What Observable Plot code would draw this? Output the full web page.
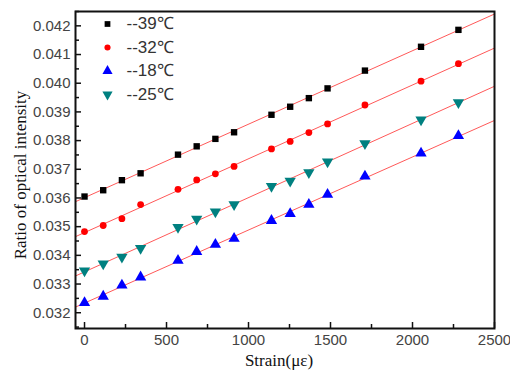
<!DOCTYPE html>
<html>
<head>
<meta charset="utf-8">
<script src="https://cdn.jsdelivr.net/npm/d3@7"></script>
<script src="https://cdn.jsdelivr.net/npm/@observablehq/plot@0.6"></script>
<style>
  html, body { margin: 0; padding: 0; background: white; }
</style>
</head>
<body>
<div id="chart"></div>
<script>
const strain = [0, 114, 228, 342, 570, 684, 798, 912, 1140, 1254, 1368, 1482, 1710, 2052, 2280];
const t39 = [0.03605, 0.03627, 0.03662, 0.03686, 0.03751, 0.03780, 0.03806, 0.03829, 0.03890, 0.03918, 0.03948, 0.03982, 0.04044, 0.04127, 0.04186];
const t32 = [0.03483, 0.03504, 0.03528, 0.03577, 0.03630, 0.03663, 0.03684, 0.03710, 0.03771, 0.03797, 0.03828, 0.03858, 0.03924, 0.04007, 0.04068];
const t18 = [0.03235, 0.03257, 0.03296, 0.03324, 0.03382, 0.03413, 0.03438, 0.03459, 0.03521, 0.03545, 0.03577, 0.03612, 0.03676, 0.03756, 0.03817];
const t25 = [0.03346, 0.03371, 0.03394, 0.03425, 0.03498, 0.03527, 0.03552, 0.03577, 0.03641, 0.03659, 0.03689, 0.03726, 0.03790, 0.03873, 0.03933];

const seriesNames = ["--39\u2103", "--32\u2103", "--18\u2103", "--25\u2103"];
const seriesValues = [t39, t32, t18, t25];
const seriesColors = ["#000000", "#ff0000", "#0000ff", "#008080"];
const seriesSymbols = ["square", "circle", "triangle", "triangle"];
const seriesRotate = [0, 0, 0, 180];
const seriesR = [3.6, 3.4, 4.2, 4.2];

const xTicks = [0, 500, 1000, 1500, 2000, 2500];
const xMinor = [250, 750, 1250, 1750, 2250];
const yTicks = [0.032, 0.033, 0.034, 0.035, 0.036, 0.037, 0.038, 0.039, 0.040, 0.041, 0.042];
const yMinor = [0.0315, 0.0325, 0.0335, 0.0345, 0.0355, 0.0365, 0.0375, 0.0385, 0.0395, 0.0405, 0.0415, 0.0425];

const xDomain = [-55, 2500];
const yDomain = [0.03145, 0.0425];

function fit(ys) {
  const mx = d3.mean(strain), my = d3.mean(ys);
  let sxy = 0, sxx = 0;
  strain.forEach((x, i) => { sxy += (x - mx) * (ys[i] - my); sxx += (x - mx) * (x - mx); });
  const b = sxy / sxx, a = my - b * mx;
  return xDomain.map(x => ({x, y: a + b * x}));
}

const marks = [];
// fit lines
seriesValues.forEach((ys) => {
  marks.push(Plot.line(fit(ys), {x: "x", y: "y", stroke: "#ff3b3b", strokeWidth: 1, strokeOpacity: 0.85}));
});
// points
seriesValues.forEach((ys, k) => {
  const data = strain.map((x, i) => ({x, y: ys[i]}));
  marks.push(Plot.dot(data, {x: "x", y: "y", symbol: seriesSymbols[k], r: seriesR[k], fill: seriesColors[k], stroke: "none", rotate: seriesRotate[k]}));
});
// legend
seriesNames.forEach((name, k) => {
  marks.push(Plot.dot([name], {frameAnchor: "top-left", dx: 32, dy: 12.5 + 23.5 * k, symbol: seriesSymbols[k], r: seriesR[k] * 0.9, fill: seriesColors[k], stroke: "none", rotate: seriesRotate[k]}));
  marks.push(Plot.text([name], {frameAnchor: "top-left", dx: 51, dy: 12.5 + 23.5 * k, text: d => d, textAnchor: "start", lineAnchor: "middle", fontSize: 17, fill: "#333", fontFamily: "Liberation Sans, Arial, sans-serif"}));
});
// axes: labels
marks.push(Plot.axisX({ticks: xTicks, tickSize: 0, tickPadding: 6, tickFormat: d => String(d), label: null, fill: "#444"}));
marks.push(Plot.axisY({ticks: yTicks, tickSize: 0, tickPadding: 5, tickFormat: d3.format(".3f"), label: null, fill: "#444"}));
// inward ticks
marks.push(Plot.axisX({ticks: xTicks, tickSize: 6, dy: -6, tickFormat: () => "", label: null, stroke: "#111", strokeWidth: 1.5}));
marks.push(Plot.axisX({ticks: xMinor, tickSize: 4, dy: -4, tickFormat: () => "", label: null, stroke: "#111", strokeWidth: 1.5}));
marks.push(Plot.axisY({ticks: yTicks, tickSize: 6, dx: 6, tickFormat: () => "", label: null, stroke: "#111", strokeWidth: 1.5}));
marks.push(Plot.axisY({ticks: yMinor, tickSize: 4, dx: 4, tickFormat: () => "", label: null, stroke: "#111", strokeWidth: 1.5}));
marks.push(Plot.frame({stroke: "#111", strokeWidth: 2}));
// axis titles
marks.push(Plot.text(["Strain(\u03bc\u03b5)"], {frameAnchor: "bottom", dx: -6, dy: 32, text: d => d, textAnchor: "middle", lineAnchor: "middle", fontSize: 17, fill: "#111", fontFamily: "Liberation Serif, Times New Roman, serif"}));
marks.push(Plot.text(["Ratio of optical intensity"], {frameAnchor: "left", dx: -55, dy: 5, rotate: -90, text: d => d, textAnchor: "middle", lineAnchor: "middle", fontSize: 17, fill: "#111", fontFamily: "Liberation Serif, Times New Roman, serif"}));

const chart = Plot.plot({
  width: 510,
  height: 372,
  marginLeft: 75,
  marginRight: 16,
  marginTop: 11,
  marginBottom: 44,
  x: {domain: xDomain},
  y: {domain: yDomain},
  style: {fontFamily: "Liberation Sans, Arial, sans-serif", fontSize: "15px", background: "white", color: "#333"},
  marks
});
document.getElementById("chart").appendChild(chart);
</script>
</body>
</html>
